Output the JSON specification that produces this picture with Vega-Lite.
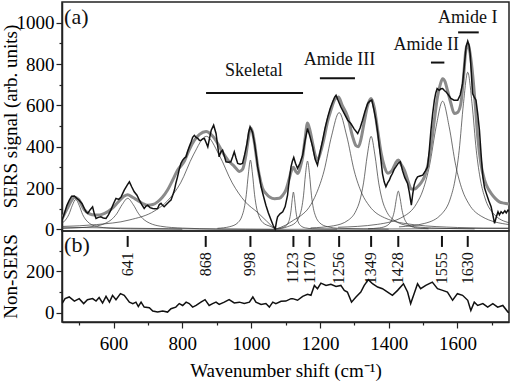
{
"$schema": "https://vega.github.io/schema/vega-lite/v6.json",
"padding": {"left": 0, "top": 1, "right": 0, "bottom": 0},
"background": "white",
"spacing": 0,
"bounds": "flush",
"config": {
  "font": "Times New Roman, Liberation Serif, serif",
  "text": {"font": "Times New Roman, Liberation Serif, serif"},
  "view": {"stroke": "#222", "strokeWidth": 1.5},
  "axis": {"labelFont": "Times New Roman, Liberation Serif, serif", "titleFont": "Times New Roman, Liberation Serif, serif", "labelFontSize": 19, "titleFontSize": 19, "titleFontWeight": "normal", "labelColor": "black", "titleColor": "black", "domainColor": "#222", "domainWidth": 1.5, "tickColor": "#222", "tickWidth": 1.2, "grid": false, "labelPadding": 2}
},
"datasets": {
"exp": [
{"x":450,"y":45},{"x":457,"y":77},{"x":464,"y":115},{"x":471,"y":140},{"x":478,"y":160},{"x":486,"y":161},{"x":493,"y":150},{"x":500,"y":141},{"x":508,"y":125},{"x":515,"y":101},{"x":520,"y":85},{"x":525,"y":77},{"x":532,"y":95},{"x":539,"y":109},{"x":544,"y":75},{"x":549,"y":53},{"x":556,"y":58},{"x":563,"y":61},{"x":570,"y":55},{"x":578,"y":53},{"x":585,"y":70},{"x":592,"y":93},{"x":600,"y":125},{"x":607,"y":150},{"x":615,"y":145},{"x":622,"y":157},{"x":631,"y":190},{"x":640,"y":215},{"x":646,"y":230},{"x":653,"y":205},{"x":660,"y":182},{"x":668,"y":165},{"x":675,"y":141},{"x":682,"y":120},{"x":689,"y":101},{"x":694,"y":112},{"x":699,"y":117},{"x":706,"y":105},{"x":714,"y":101},{"x":720,"y":100},{"x":728,"y":101},{"x":733,"y":120},{"x":738,"y":126},{"x":743,"y":115},{"x":747,"y":109},{"x":752,"y":118},{"x":757,"y":126},{"x":762,"y":135},{"x":767,"y":142},{"x":772,"y":165},{"x":777,"y":190},{"x":781,"y":222},{"x":786,"y":254},{"x":791,"y":290},{"x":796,"y":320},{"x":801,"y":335},{"x":806,"y":345},{"x":811,"y":351},{"x":815,"y":375},{"x":820,"y":399},{"x":826,"y":425},{"x":830,"y":445},{"x":835,"y":455},{"x":840,"y":445},{"x":845,"y":440},{"x":850,"y":430},{"x":854,"y":431},{"x":859,"y":438},{"x":864,"y":440},{"x":869,"y":420},{"x":874,"y":399},{"x":879,"y":440},{"x":884,"y":480},{"x":891,"y":504},{"x":898,"y":464},{"x":903,"y":400},{"x":907,"y":351},{"x":912,"y":375},{"x":917,"y":383},{"x":922,"y":355},{"x":927,"y":327},{"x":934,"y":325},{"x":941,"y":327},{"x":946,"y":350},{"x":951,"y":375},{"x":956,"y":345},{"x":961,"y":319},{"x":968,"y":315},{"x":975,"y":319},{"x":981,"y":360},{"x":988,"y":415},{"x":993,"y":470},{"x":997,"y":496},{"x":1004,"y":470},{"x":1010,"y":415},{"x":1016,"y":345},{"x":1019,"y":302},{"x":1024,"y":260},{"x":1029,"y":206},{"x":1036,"y":160},{"x":1043,"y":117},{"x":1050,"y":80},{"x":1058,"y":45},{"x":1064,"y":20},{"x":1070,"y":0},{"x":1074,"y":40},{"x":1077,"y":61},{"x":1084,"y":75},{"x":1092,"y":85},{"x":1099,"y":110},{"x":1106,"y":166},{"x":1111,"y":240},{"x":1116,"y":302},{"x":1120,"y":330},{"x":1124,"y":348},{"x":1129,"y":320},{"x":1135,"y":295},{"x":1142,"y":320},{"x":1150,"y":359},{"x":1157,"y":430},{"x":1164,"y":488},{"x":1171,"y":450},{"x":1179,"y":399},{"x":1186,"y":340},{"x":1193,"y":311},{"x":1200,"y":370},{"x":1208,"y":431},{"x":1215,"y":490},{"x":1223,"y":544},{"x":1230,"y":585},{"x":1237,"y":616},{"x":1243,"y":640},{"x":1247,"y":649},{"x":1254,"y":620},{"x":1261,"y":592},{"x":1271,"y":560},{"x":1281,"y":528},{"x":1290,"y":512},{"x":1300,"y":485},{"x":1310,"y":464},{"x":1317,"y":490},{"x":1324,"y":528},{"x":1331,"y":570},{"x":1339,"y":609},{"x":1345,"y":620},{"x":1351,"y":625},{"x":1357,"y":580},{"x":1363,"y":528},{"x":1368,"y":470},{"x":1373,"y":399},{"x":1378,"y":330},{"x":1382,"y":270},{"x":1387,"y":230},{"x":1392,"y":206},{"x":1397,"y":225},{"x":1402,"y":238},{"x":1406,"y":255},{"x":1411,"y":270},{"x":1416,"y":290},{"x":1421,"y":302},{"x":1428,"y":320},{"x":1434,"y":327},{"x":1440,"y":286},{"x":1447,"y":250},{"x":1455,"y":222},{"x":1460,"y":180},{"x":1466,"y":117},{"x":1470,"y":170},{"x":1474,"y":214},{"x":1479,"y":240},{"x":1484,"y":254},{"x":1491,"y":258},{"x":1499,"y":262},{"x":1506,"y":280},{"x":1513,"y":302},{"x":1518,"y":380},{"x":1523,"y":480},{"x":1528,"y":560},{"x":1533,"y":625},{"x":1537,"y":660},{"x":1541,"y":681},{"x":1547,"y":673},{"x":1552,"y":680},{"x":1557,"y":681},{"x":1562,"y":672},{"x":1567,"y":665},{"x":1574,"y":650},{"x":1581,"y":633},{"x":1590,"y":625},{"x":1601,"y":625},{"x":1608,"y":650},{"x":1615,"y":705},{"x":1620,"y":790},{"x":1625,"y":882},{"x":1630,"y":911},{"x":1634,"y":890},{"x":1637,"y":850},{"x":1641,"y":740},{"x":1644,"y":657},{"x":1649,"y":640},{"x":1654,"y":625},{"x":1659,"y":560},{"x":1664,"y":480},{"x":1669,"y":360},{"x":1674,"y":254},{"x":1679,"y":200},{"x":1684,"y":174},{"x":1691,"y":140},{"x":1698,"y":109},{"x":1703,"y":70},{"x":1708,"y":29},{"x":1713,"y":60},{"x":1718,"y":85},{"x":1722,"y":70},{"x":1727,"y":85},{"x":1732,"y":77},{"x":1738,"y":90},{"x":1742,"y":80},{"x":1747,"y":93},{"x":1750,"y":88}
],
"fit": [
{"x":450,"y":50},{"x":465,"y":100},{"x":478,"y":140},{"x":487,"y":155},{"x":498,"y":145},{"x":515,"y":95},{"x":530,"y":75},{"x":545,"y":69},{"x":560,"y":70},{"x":574,"y":77},{"x":595,"y":100},{"x":612,"y":130},{"x":630,"y":160},{"x":641,"y":168},{"x":655,"y":155},{"x":670,"y":140},{"x":685,"y":125},{"x":699,"y":117},{"x":714,"y":120},{"x":728,"y":133},{"x":742,"y":155},{"x":757,"y":190},{"x":771,"y":235},{"x":786,"y":286},{"x":806,"y":330},{"x":820,"y":385},{"x":835,"y":431},{"x":850,"y":460},{"x":869,"y":474},{"x":886,"y":455},{"x":903,"y":415},{"x":920,"y":365},{"x":935,"y":330},{"x":951,"y":305},{"x":966,"y":280},{"x":975,"y":290},{"x":985,"y":360},{"x":992,"y":440},{"x":998,"y":490},{"x":1004,"y":470},{"x":1010,"y":415},{"x":1017,"y":330},{"x":1024,"y":260},{"x":1033,"y":200},{"x":1043,"y":174},{"x":1055,"y":155},{"x":1068,"y":148},{"x":1082,"y":150},{"x":1092,"y":165},{"x":1101,"y":190},{"x":1110,"y":240},{"x":1116,"y":278},{"x":1123,"y":300},{"x":1130,"y":280},{"x":1136,"y":270},{"x":1143,"y":300},{"x":1150,"y":351},{"x":1157,"y":440},{"x":1164,"y":515},{"x":1171,"y":480},{"x":1179,"y":415},{"x":1186,"y":360},{"x":1193,"y":335},{"x":1203,"y":380},{"x":1213,"y":447},{"x":1222,"y":520},{"x":1232,"y":576},{"x":1244,"y":630},{"x":1254,"y":640},{"x":1265,"y":600},{"x":1281,"y":544},{"x":1295,"y":450},{"x":1305,"y":405},{"x":1312,"y":400},{"x":1320,"y":440},{"x":1329,"y":520},{"x":1339,"y":600},{"x":1349,"y":633},{"x":1358,"y":590},{"x":1368,"y":480},{"x":1378,"y":370},{"x":1388,"y":302},{"x":1398,"y":272},{"x":1410,"y":285},{"x":1420,"y":320},{"x":1428,"y":335},{"x":1436,"y":315},{"x":1446,"y":286},{"x":1456,"y":235},{"x":1466,"y":195},{"x":1476,"y":195},{"x":1484,"y":206},{"x":1494,"y":225},{"x":1504,"y":254},{"x":1514,"y":310},{"x":1523,"y":399},{"x":1533,"y":530},{"x":1542,"y":640},{"x":1550,"y":700},{"x":1557,"y":729},{"x":1564,"y":715},{"x":1571,"y":673},{"x":1581,"y":610},{"x":1591,"y":560},{"x":1600,"y":565},{"x":1610,"y":609},{"x":1618,"y":740},{"x":1624,"y":860},{"x":1630,"y":898},{"x":1637,"y":850},{"x":1645,"y":737},{"x":1652,"y":600},{"x":1659,"y":447},{"x":1668,"y":320},{"x":1679,"y":238},{"x":1690,"y":195},{"x":1698,"y":174},{"x":1710,"y":150},{"x":1722,"y":133},{"x":1735,"y":127},{"x":1750,"y":123}
],
"comp": [
{"id":"base","x":450,"y":10},{"id":"base","x":1070,"y":0},{"id":"base","x":1750,"y":6},
{"id":"c1","x":450,"y":29},{"id":"c1","x":460,"y":45},{"id":"c1","x":470,"y":72},{"id":"c1","x":480,"y":116},{"id":"c1","x":490,"y":145},{"id":"c1","x":500,"y":116},{"id":"c1","x":510,"y":72},{"id":"c1","x":520,"y":45},{"id":"c1","x":530,"y":29},{"id":"c1","x":550,"y":14.5},{"id":"c1","x":590,"y":5.6},{"id":"c1","x":650,"y":2.2},{"id":"c1","x":800,"y":0.5},
{"id":"c2","x":450,"y":4},{"id":"c2","x":545,"y":15},{"id":"c2","x":577,"y":30},{"id":"c2","x":593,"y":46},{"id":"c2","x":609,"y":75},{"id":"c2","x":625,"y":120},{"id":"c2","x":641,"y":150},{"id":"c2","x":657,"y":120},{"id":"c2","x":673,"y":75},{"id":"c2","x":689,"y":46},{"id":"c2","x":705,"y":30},{"id":"c2","x":737,"y":15},{"id":"c2","x":801,"y":6},{"id":"c2","x":897,"y":2},{"id":"c2","x":1070,"y":0},
{"id":"c3","x":450,"y":14},{"id":"c3","x":550,"y":23},{"id":"c3","x":645,"y":45},{"id":"c3","x":720,"y":90},{"id":"c3","x":757,"y":138},{"id":"c3","x":795,"y":225},{"id":"c3","x":832,"y":360},{"id":"c3","x":870,"y":450},{"id":"c3","x":907,"y":360},{"id":"c3","x":945,"y":225},{"id":"c3","x":982,"y":135},{"id":"c3","x":1020,"y":80},{"id":"c3","x":1045,"y":40},{"id":"c3","x":1070,"y":0},
{"id":"c4","x":902,"y":5},{"id":"c4","x":938,"y":13},{"id":"c4","x":962,"y":33},{"id":"c4","x":974,"y":67},{"id":"c4","x":980,"y":103},{"id":"c4","x":986,"y":168},{"id":"c4","x":992,"y":268},{"id":"c4","x":998,"y":335},{"id":"c4","x":1004,"y":268},{"id":"c4","x":1010,"y":168},{"id":"c4","x":1016,"y":103},{"id":"c4","x":1022,"y":67},{"id":"c4","x":1034,"y":33},{"id":"c4","x":1058,"y":13},{"id":"c4","x":1070,"y":4},
{"id":"c5","x":1067,"y":3},{"id":"c5","x":1088,"y":7},{"id":"c5","x":1102,"y":18},{"id":"c5","x":1109,"y":36},{"id":"c5","x":1112.5,"y":55},{"id":"c5","x":1116,"y":90},{"id":"c5","x":1119.5,"y":144},{"id":"c5","x":1123,"y":180},{"id":"c5","x":1126.5,"y":144},{"id":"c5","x":1130,"y":90},{"id":"c5","x":1133.5,"y":55},{"id":"c5","x":1137,"y":36},{"id":"c5","x":1144,"y":18},{"id":"c5","x":1158,"y":7},{"id":"c5","x":1179,"y":3},{"id":"c5","x":1250,"y":1},
{"id":"c6","x":1070,"y":0},{"id":"c6","x":1106,"y":13},{"id":"c6","x":1129.5,"y":33},{"id":"c6","x":1141,"y":66},{"id":"c6","x":1147,"y":102},{"id":"c6","x":1152.5,"y":165},{"id":"c6","x":1158,"y":264},{"id":"c6","x":1164,"y":330},{"id":"c6","x":1170,"y":264},{"id":"c6","x":1175.5,"y":165},{"id":"c6","x":1181,"y":102},{"id":"c6","x":1187,"y":66},{"id":"c6","x":1198.5,"y":33},{"id":"c6","x":1221.5,"y":13},{"id":"c6","x":1256,"y":5},{"id":"c6","x":1400,"y":1},
{"id":"c7","x":1070,"y":0},{"id":"c7","x":1100,"y":20},{"id":"c7","x":1124,"y":45},{"id":"c7","x":1146,"y":68},{"id":"c7","x":1168,"y":105},{"id":"c7","x":1190,"y":174},{"id":"c7","x":1212,"y":282},{"id":"c7","x":1234,"y":452},{"id":"c7","x":1256,"y":565},{"id":"c7","x":1278,"y":452},{"id":"c7","x":1300,"y":282},{"id":"c7","x":1322,"y":174},{"id":"c7","x":1344,"y":113},{"id":"c7","x":1388,"y":56},{"id":"c7","x":1476,"y":22},{"id":"c7","x":1600,"y":9},{"id":"c7","x":1750,"y":4},
{"id":"c8","x":1173,"y":7},{"id":"c8","x":1239,"y":17},{"id":"c8","x":1283,"y":45},{"id":"c8","x":1305,"y":90},{"id":"c8","x":1316,"y":138},{"id":"c8","x":1327,"y":225},{"id":"c8","x":1338,"y":360},{"id":"c8","x":1349,"y":450},{"id":"c8","x":1360,"y":360},{"id":"c8","x":1371,"y":225},{"id":"c8","x":1382,"y":138},{"id":"c8","x":1393,"y":90},{"id":"c8","x":1415,"y":45},{"id":"c8","x":1459,"y":17},{"id":"c8","x":1525,"y":7},{"id":"c8","x":1650,"y":2},
{"id":"c9","x":1340,"y":3},{"id":"c9","x":1373,"y":7},{"id":"c9","x":1395,"y":18},{"id":"c9","x":1406,"y":37},{"id":"c9","x":1411.5,"y":57},{"id":"c9","x":1417,"y":92},{"id":"c9","x":1422.5,"y":148},{"id":"c9","x":1428,"y":185},{"id":"c9","x":1433.5,"y":148},{"id":"c9","x":1439,"y":92},{"id":"c9","x":1444.5,"y":57},{"id":"c9","x":1450,"y":37},{"id":"c9","x":1461,"y":18},{"id":"c9","x":1483,"y":7},{"id":"c9","x":1516,"y":3},
{"id":"c10","x":1253,"y":10},{"id":"c10","x":1367,"y":24},{"id":"c10","x":1443,"y":62},{"id":"c10","x":1481,"y":124},{"id":"c10","x":1500,"y":191},{"id":"c10","x":1519,"y":310},{"id":"c10","x":1538,"y":496},{"id":"c10","x":1557,"y":620},{"id":"c10","x":1576,"y":496},{"id":"c10","x":1595,"y":310},{"id":"c10","x":1614,"y":191},{"id":"c10","x":1633,"y":124},{"id":"c10","x":1671,"y":62},{"id":"c10","x":1750,"y":23},
{"id":"c11","x":1430,"y":12},{"id":"c11","x":1505,"y":29},{"id":"c11","x":1555,"y":76},{"id":"c11","x":1580,"y":152},{"id":"c11","x":1592.5,"y":234},{"id":"c11","x":1605,"y":380},{"id":"c11","x":1617.5,"y":608},{"id":"c11","x":1630,"y":760},{"id":"c11","x":1642.5,"y":608},{"id":"c11","x":1655,"y":380},{"id":"c11","x":1667.5,"y":234},{"id":"c11","x":1680,"y":152},{"id":"c11","x":1705,"y":76},{"id":"c11","x":1750,"y":32}
],
"brk": [{"x":869,"x2":1151,"y":660},{"x":1200,"x2":1302,"y":731},{"x":1523,"x2":1562,"y":807},{"x":1602,"x2":1662,"y":953}],
"ann": [{"x":1008,"y":740,"t":"Skeletal"},{"x":1257,"y":793,"t":"Amide III"},{"x":1509,"y":866,"t":"Amide II"},{"x":1630,"y":998,"t":"Amide I"}],
"pa": [{"x":456,"y":992,"t":"(a)"}],
"pb": [{"x":456,"y":292,"t":"(b)"}],
"nonsers": [
{"x":450,"y":44},{"x":459,"y":68},{"x":471,"y":76},{"x":486,"y":56},{"x":500,"y":68},{"x":513,"y":44},{"x":524,"y":63},{"x":539,"y":68},{"x":549,"y":56},{"x":558,"y":73},{"x":568,"y":47},{"x":578,"y":79},{"x":588,"y":51},{"x":597,"y":84},{"x":607,"y":63},{"x":620,"y":92},{"x":631,"y":84},{"x":646,"y":51},{"x":656,"y":44},{"x":665,"y":51},{"x":672,"y":30},{"x":680,"y":51},{"x":689,"y":27},{"x":704,"y":24},{"x":714,"y":8},{"x":728,"y":3},{"x":743,"y":8},{"x":757,"y":3},{"x":767,"y":19},{"x":781,"y":27},{"x":791,"y":44},{"x":801,"y":35},{"x":811,"y":51},{"x":820,"y":44},{"x":830,"y":27},{"x":840,"y":35},{"x":854,"y":51},{"x":866,"y":63},{"x":878,"y":35},{"x":888,"y":44},{"x":898,"y":51},{"x":907,"y":40},{"x":922,"y":51},{"x":936,"y":63},{"x":951,"y":47},{"x":966,"y":51},{"x":980,"y":44},{"x":995,"y":51},{"x":1005,"y":76},{"x":1014,"y":51},{"x":1029,"y":40},{"x":1043,"y":44},{"x":1053,"y":27},{"x":1063,"y":51},{"x":1072,"y":44},{"x":1087,"y":55},{"x":1101,"y":56},{"x":1116,"y":68},{"x":1121,"y":68},{"x":1135,"y":60},{"x":1150,"y":79},{"x":1164,"y":89},{"x":1174,"y":84},{"x":1184,"y":132},{"x":1193,"y":116},{"x":1203,"y":143},{"x":1218,"y":132},{"x":1232,"y":137},{"x":1247,"y":127},{"x":1261,"y":132},{"x":1271,"y":108},{"x":1280,"y":100},{"x":1292,"y":51},{"x":1305,"y":76},{"x":1319,"y":100},{"x":1329,"y":132},{"x":1341,"y":160},{"x":1353,"y":140},{"x":1368,"y":124},{"x":1382,"y":116},{"x":1397,"y":100},{"x":1411,"y":84},{"x":1426,"y":108},{"x":1443,"y":140},{"x":1455,"y":100},{"x":1464,"y":44},{"x":1474,"y":92},{"x":1484,"y":140},{"x":1493,"y":116},{"x":1508,"y":132},{"x":1527,"y":148},{"x":1542,"y":116},{"x":1557,"y":108},{"x":1571,"y":100},{"x":1586,"y":60},{"x":1600,"y":92},{"x":1615,"y":84},{"x":1630,"y":60},{"x":1639,"y":11},{"x":1649,"y":51},{"x":1659,"y":35},{"x":1674,"y":44},{"x":1688,"y":27},{"x":1703,"y":44},{"x":1717,"y":27},{"x":1732,"y":35},{"x":1747,"y":3},{"x":1750,"y":0}
],
"marks": [
{"x":641,"y":318,"y2":371,"t":"641","ty":292},{"x":868,"y":318,"y2":371,"t":"868","ty":292},{"x":998,"y":318,"y2":371,"t":"998","ty":292},{"x":1123,"y":318,"y2":371,"t":"1123","ty":292},{"x":1170,"y":318,"y2":371,"t":"1170","ty":292},{"x":1256,"y":318,"y2":371,"t":"1256","ty":292},{"x":1349,"y":318,"y2":371,"t":"1349","ty":292},{"x":1428,"y":318,"y2":371,"t":"1428","ty":292},{"x":1555,"y":318,"y2":371,"t":"1555","ty":292},{"x":1630,"y":318,"y2":371,"t":"1630","ty":292}
]
},
"vconcat": [
{
  "width": 447, "height": 229,
  "encoding": {
    "x": {"field": "x", "type": "quantitative", "scale": {"domain": [450, 1750], "nice": false, "zero": false}, "axis": null},
    "y": {"field": "y", "type": "quantitative", "scale": {"domain": [-8, 1100], "nice": false, "zero": false},
      "axis": {"title": "SERS signal (arb. units)", "values": [0,100,200,300,400,500,600,700,800,900,1000], "format": "d",
        "labelExpr": "datum.value % 200 === 0 ? datum.label : ''",
        "tickSize": {"condition": {"test": "datum.value % 200 === 0", "value": 6}, "value": 3},
        "titleX": -42, "titleY": 114}}
  },
  "layer": [
    {"data": {"name": "comp"}, "mark": {"type": "line", "interpolate": "monotone", "stroke": "#333", "strokeWidth": 0.7, "clip": true}, "encoding": {"detail": {"field": "id"}}},
    {"data": {"name": "fit"}, "mark": {"type": "line", "interpolate": "monotone", "stroke": "#8a8a8a", "strokeWidth": 3, "clip": true}, "encoding": {}},
    {"data": {"name": "exp"}, "mark": {"type": "line", "stroke": "#111", "strokeWidth": 1.5, "clip": true}, "encoding": {}},
    {"data": {"name": "brk"}, "mark": {"type": "rule", "stroke": "#111", "strokeWidth": 2}, "encoding": {"x2": {"field": "x2"}}},
    {"data": {"name": "ann"}, "mark": {"type": "text", "fontSize": 18, "align": "center", "baseline": "alphabetic", "color": "#111"}, "encoding": {"text": {"field": "t"}}},
    {"data": {"name": "pa"}, "mark": {"type": "text", "fontSize": 22, "align": "left", "baseline": "alphabetic", "color": "#111"}, "encoding": {"text": {"field": "t"}}}
  ]
},
{
  "width": 447, "height": 91,
  "encoding": {
    "x": {"field": "x", "type": "quantitative", "scale": {"domain": [450, 1750], "nice": false, "zero": false},
      "axis": {"title": "Wavenumber shift (cm⁻¹)", "values": [500,600,700,800,900,1000,1100,1200,1300,1400,1500,1600,1700], "format": "d",
        "labelExpr": "datum.value % 200 === 0 ? datum.label : ''",
        "tickSize": {"condition": {"test": "datum.value % 200 === 0", "value": 6}, "value": 3},
        "labelPadding": 6, "titlePadding": 8}},
    "y": {"field": "y", "type": "quantitative", "scale": {"domain": [-45, 395], "nice": false, "zero": false},
      "axis": {"title": "Non-SERS", "values": [0,100,200,300], "format": "d",
        "labelExpr": "datum.value % 200 === 0 ? datum.label : ''",
        "tickSize": {"condition": {"test": "datum.value % 200 === 0", "value": 6}, "value": 3},
        "titleX": -42, "titleY": 45}}
  },
  "layer": [
    {"data": {"name": "nonsers"}, "mark": {"type": "line", "stroke": "#111", "strokeWidth": 1.5, "clip": true}, "encoding": {}},
    {"data": {"name": "marks"}, "mark": {"type": "rule", "stroke": "#111", "strokeWidth": 2}, "encoding": {"y2": {"field": "y2"}}},
    {"data": {"name": "marks"}, "mark": {"type": "text", "fontSize": 16, "angle": 270, "align": "right", "baseline": "middle", "color": "#111"}, "encoding": {"y": {"field": "ty", "type": "quantitative"}, "text": {"field": "t"}}},
    {"data": {"name": "pb"}, "mark": {"type": "text", "fontSize": 22, "align": "left", "baseline": "alphabetic", "color": "#111"}, "encoding": {"text": {"field": "t"}}}
  ]
}
]
}
